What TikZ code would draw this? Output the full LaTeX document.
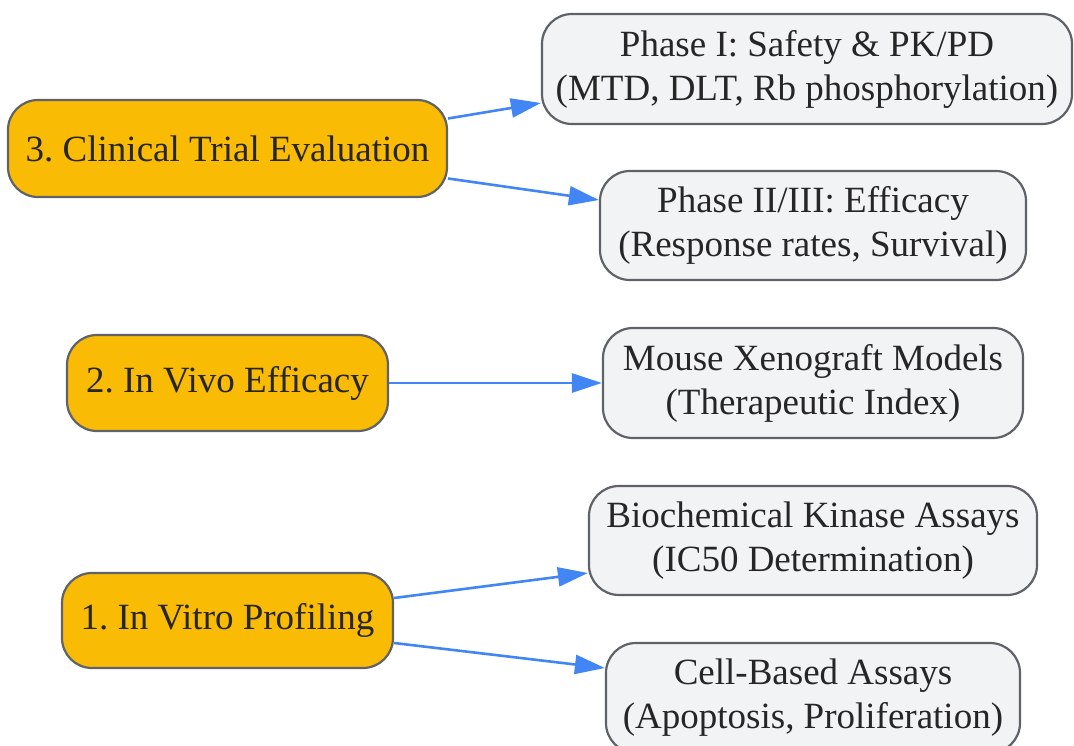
\documentclass[tikz,border=0pt]{standalone}
\usepackage{fontspec}
\setmainfont{Liberation Serif}
\usetikzlibrary{arrows.meta}
\definecolor{stageorange}{HTML}{FABB05}
\definecolor{boxgray}{HTML}{F1F3F5}
\definecolor{edgegray}{HTML}{5F6368}
\definecolor{arrowblue}{HTML}{4285F4}
\frenchspacing
\begin{document}
\begin{tikzpicture}[x=1pt,y=-1pt,
  base/.style={draw=edgegray,line width=2.2pt,rounded corners=30pt,inner sep=0pt,align=center,font=\fontsize{37}{44}\selectfont,text=black!85},
  stage/.style={base,fill=stageorange},
  detail/.style={base,fill=boxgray},
  link/.style={draw=arrowblue,line width=2.6pt,-{Triangle[length=30pt,width=19pt]}}]
\useasboundingbox (0,0) rectangle (1074,746);
\node[stage,minimum width=439pt,minimum height=97pt] (clin) at (227.5,148.5) {3. Clinical Trial Evaluation};
\node[stage,minimum width=321pt,minimum height=96pt] (vivo) at (227.5,383) {2. In Vivo Efficacy};
\node[stage,minimum width=331pt,minimum height=95pt] (vitro) at (227.5,620.5) {1. In Vitro Profiling};
\node[detail,minimum width=530pt,minimum height=110pt] (p1) at (807,69) {Phase I: Safety \& PK/PD\\(MTD, DLT, Rb phosphorylation)};
\node[detail,minimum width=426pt,minimum height=109pt] (p2) at (813,225.5) {Phase II/III: Efficacy\\(Response rates, Survival)};
\node[detail,minimum width=420pt,minimum height=110pt] (mouse) at (813,383) {Mouse Xenograft Models\\(Therapeutic Index)};
\node[detail,minimum width=448pt,minimum height=109pt] (bio) at (813,540.5) {Biochemical Kinase Assays\\(IC50 Determination)};
\node[detail,minimum width=414pt,minimum height=110pt] (cell) at (813,698) {Cell-Based Assays\\(Apoptosis, Proliferation)};
\draw[link] ([yshift=30pt]clin.east) -- ([yshift=-34pt]p1.west);
\draw[link] ([yshift=-30pt]clin.east) -- ([yshift=25.5pt]p2.west);
\draw[link] (vivo.east) -- (mouse.west);
\draw[link] ([yshift=22.5pt]vitro.east) -- ([yshift=-32.5pt]bio.west);
\draw[link] ([yshift=-22.5pt]vitro.east) -- ([yshift=30pt]cell.west);
\end{tikzpicture}
\end{document}
